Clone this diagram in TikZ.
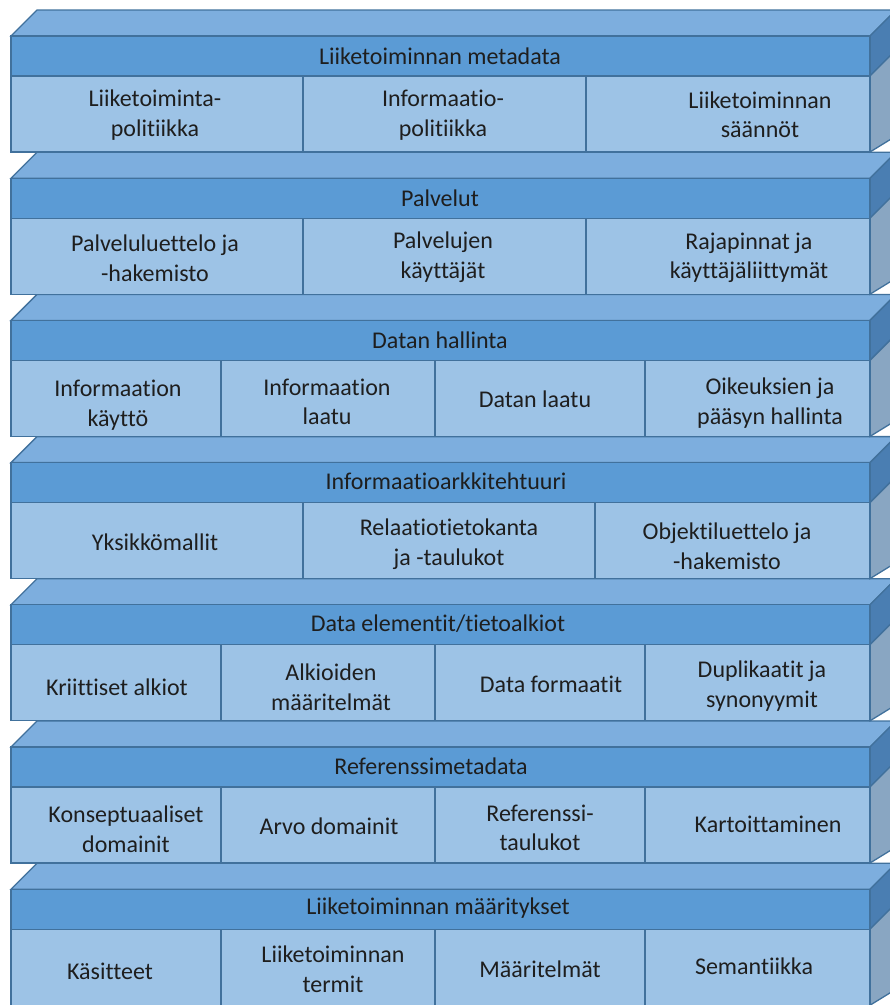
\documentclass[tikz,border=0pt]{standalone}
\usepackage{fontspec}
\setmainfont{Carlito}[Ligatures={NoCommon,NoContextual}]

\definecolor{topface}{HTML}{7DAEDE}
\definecolor{headfill}{HTML}{5B9BD5}
\definecolor{cellfill}{HTML}{9DC3E6}
\definecolor{headside}{HTML}{4A7EB2}
\definecolor{cellside}{HTML}{89A6C2}
\definecolor{edgeblue}{HTML}{41719C}
\definecolor{ink}{HTML}{1E1E1E}

\tikzset{
  face/.style={draw=edgeblue, line width=1.3pt, line join=miter},
  divider/.style={draw=edgeblue, line width=1.8pt},
  celltext/.style={text=ink, align=center, inner sep=0pt,
    font=\fontsize{24}{29.5}\selectfont},
}

% One slab of the stack: #1 = y of the header's top edge, #2 = x of the cell dividers
\newcommand\tierslab[2]{%
  \path[face, fill=topface] (11,#1) -- (37,#1-26) -- (896,#1-26) -- (870,#1) -- cycle;
  \path[face, fill=headside] (870,#1) -- (896,#1-26) -- (896,#1+14) -- (870,#1+40) -- cycle;
  \path[face, fill=cellside] (870,#1+40) -- (896,#1+14) -- (896,#1+100) -- (870,#1+116) -- cycle;
  \path[face, fill=headfill] (11,#1) rectangle (870,#1+40);
  \path[face, fill=cellfill] (11,#1+40) rectangle (870,#1+116);
  \foreach \dx in {#2} {\draw[divider] (\dx,#1+40) -- (\dx,#1+116);}
}

\begin{document}
\begin{tikzpicture}[x=1pt, y=-1pt]
  \useasboundingbox (0,0) rectangle (890,1005);
  \clip (0,0) rectangle (890,1005);

  % slabs, drawn from the bottom up
  \tierslab{889.2}{221,435,645}
  \tierslab{747.0}{221,435,645}
  \tierslab{604.8}{221,435,645}
  \tierslab{462.6}{303,595}
  \tierslab{320.4}{221,435,645}
  \tierslab{178.2}{303,586}
  \tierslab{36.0}{303,586}

  % layer 1
  \node[celltext] (h1) at (440,56) {Liiketoiminnan metadata};
  \node[celltext] (c11) at (155,115) {Liiketoiminta-\\politiikka};
  \node[celltext] (c12) at (443,115) {Informaatio-\\politiikka};
  \node[celltext] (c13) at (760,115) {Liiketoiminnan\\säännöt};

  % layer 2
  \node[celltext] (h2) at (440,198) {Palvelut};
  \node[celltext] (c21) at (155,258) {Palveluluettelo ja\\-hakemisto};
  \node[celltext] (c22) at (443,257) {Palvelujen\\käyttäjät};
  \node[celltext] (c23) at (749,258) {Rajapinnat ja\\käyttäjäliittymät};

  % layer 3
  \node[celltext] (h3) at (440,340) {Datan hallinta};
  \node[celltext] (c31) at (118,405) {Informaation\\käyttö};
  \node[celltext] (c32) at (327,402) {Informaation\\laatu};
  \node[celltext] (c33) at (535,399) {Datan laatu};
  \node[celltext] (c34) at (770,403) {Oikeuksien ja\\pääsyn hallinta};

  % layer 4
  \node[celltext] (h4) at (446,481) {Informaatioarkkitehtuuri};
  \node[celltext] (c41) at (155,542) {Yksikkömallit};
  \node[celltext] (c42) at (449,544) {Relaatiotietokanta\\ja -taulukot};
  \node[celltext] (c43) at (727,546) {Objektiluettelo ja\\-hakemisto};

  % layer 5
  \node[celltext] (h5) at (438,624) {Data elementit/tietoalkiot};
  \node[celltext] (c51) at (117,687) {Kriittiset alkiot};
  \node[celltext] (c52) at (331,687) {Alkioiden\\määritelmät};
  \node[celltext] (c53) at (551,684) {Data formaatit};
  \node[celltext] (c54) at (762,686) {Duplikaatit ja\\synonyymit};

  % layer 6
  \node[celltext] (h6) at (431,766) {Referenssimetadata};
  \node[celltext] (c61) at (126,829) {Konseptuaaliset\\domainit};
  \node[celltext] (c62) at (329,826) {Arvo domainit};
  \node[celltext] (c63) at (540,828) {Referenssi-\\taulukot};
  \node[celltext] (c64) at (768,824) {Kartoittaminen};

  % layer 7
  \node[celltext] (h7) at (438,908) {Liiketoiminnan määritykset};
  \node[celltext] (c71) at (110,971) {Käsitteet};
  \node[celltext] (c72) at (333,969) {Liiketoiminnan\\termit};
  \node[celltext] (c73) at (540,969) {Määritelmät};
  \node[celltext] (c74) at (754,966) {Semantiikka};
\end{tikzpicture}
\end{document}
